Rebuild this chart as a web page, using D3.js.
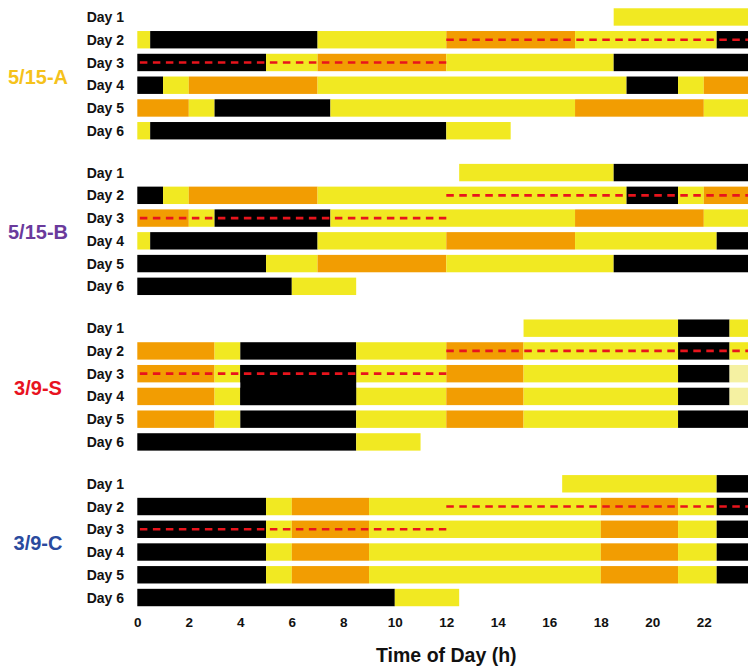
<!DOCTYPE html>
<html>
<head>
<meta charset="utf-8">
<script src="https://cdn.jsdelivr.net/npm/d3@7"></script>
<style>
  body { margin: 0; background: #fff; }
  svg { display: block; font-family: "Liberation Sans", Arial, sans-serif; }
</style>
</head>
<body>
<svg id="chart" width="748" height="669"></svg>
<script>
'use strict'

var groups = ["5/15-A", "5/15-B", "3/9-S", "3/9-C"];
var groupColors = ["#F5C21B", "#6A3A9C", "#E8131F", "#2A4A9E"];
var days = ["Day 1", "Day 2", "Day 3", "Day 4", "Day 5", "Day 6"];
var hourTicks = [0, 2, 4, 6, 8, 10, 12, 14, 16, 18, 20, 22];

// [day, start h, end h, state]
var segA = [
    ["Day 1", 18.5, 24, "yellow"],
    ["Day 2", 0, 0.5, "yellow"], ["Day 2", 0.5, 7, "black"], ["Day 2", 7, 12, "yellow"],
    ["Day 2", 12, 17, "orange"], ["Day 2", 17, 22.5, "yellow"], ["Day 2", 22.5, 24, "black"],
    ["Day 3", 0, 5, "black"], ["Day 3", 5, 7, "yellow"], ["Day 3", 7, 12, "orange"],
    ["Day 3", 12, 18.5, "yellow"], ["Day 3", 18.5, 24, "black"],
    ["Day 4", 0, 1, "black"], ["Day 4", 1, 2, "yellow"], ["Day 4", 2, 7, "orange"],
    ["Day 4", 7, 19, "yellow"], ["Day 4", 19, 21, "black"], ["Day 4", 21, 22, "yellow"], ["Day 4", 22, 24, "orange"],
    ["Day 5", 0, 2, "orange"], ["Day 5", 2, 3, "yellow"], ["Day 5", 3, 7.5, "black"],
    ["Day 5", 7.5, 17, "yellow"], ["Day 5", 17, 22, "orange"], ["Day 5", 22, 24, "yellow"],
    ["Day 6", 0, 0.5, "yellow"], ["Day 6", 0.5, 12, "black"], ["Day 6", 12, 14.5, "yellow"]
];

var segB = [
    ["Day 1", 12.5, 18.5, "yellow"], ["Day 1", 18.5, 24, "black"],
    ["Day 2", 0, 1, "black"], ["Day 2", 1, 2, "yellow"], ["Day 2", 2, 7, "orange"],
    ["Day 2", 7, 19, "yellow"], ["Day 2", 19, 21, "black"], ["Day 2", 21, 22, "yellow"], ["Day 2", 22, 24, "orange"],
    ["Day 3", 0, 2, "orange"], ["Day 3", 2, 3, "yellow"], ["Day 3", 3, 7.5, "black"],
    ["Day 3", 7.5, 17, "yellow"], ["Day 3", 17, 22, "orange"], ["Day 3", 22, 24, "yellow"],
    ["Day 4", 0, 0.5, "yellow"], ["Day 4", 0.5, 7, "black"], ["Day 4", 7, 12, "yellow"],
    ["Day 4", 12, 17, "orange"], ["Day 4", 17, 22.5, "yellow"], ["Day 4", 22.5, 24, "black"],
    ["Day 5", 0, 5, "black"], ["Day 5", 5, 7, "yellow"], ["Day 5", 7, 12, "orange"],
    ["Day 5", 12, 18.5, "yellow"], ["Day 5", 18.5, 24, "black"],
    ["Day 6", 0, 6, "black"], ["Day 6", 6, 8.5, "yellow"]
];

var segS = [
    ["Day 1", 15, 21, "yellow"], ["Day 1", 21, 23, "black"], ["Day 1", 23, 24, "yellow"],
    ["Day 2", 0, 3, "orange"], ["Day 2", 3, 4, "yellow"], ["Day 2", 4, 8.5, "black"], ["Day 2", 8.5, 12, "yellow"],
    ["Day 2", 12, 15, "orange"], ["Day 2", 15, 21, "yellow"], ["Day 2", 21, 23, "black"], ["Day 2", 23, 24, "yellow"],
    ["Day 3", 0, 3, "orange"], ["Day 3", 3, 4, "yellow"], ["Day 3", 4, 8.5, "black"], ["Day 3", 8.5, 12, "yellow"],
    ["Day 3", 12, 15, "orange"], ["Day 3", 15, 21, "yellow"], ["Day 3", 21, 23, "black"], ["Day 3", 23, 24, "pale"],
    ["Day 4", 0, 3, "orange"], ["Day 4", 3, 4, "yellow"], ["Day 4", 4, 8.5, "black"], ["Day 4", 8.5, 12, "yellow"],
    ["Day 4", 12, 15, "orange"], ["Day 4", 15, 21, "yellow"], ["Day 4", 21, 23, "black"], ["Day 4", 23, 24, "pale"],
    ["Day 5", 0, 3, "orange"], ["Day 5", 3, 4, "yellow"], ["Day 5", 4, 8.5, "black"], ["Day 5", 8.5, 12, "yellow"],
    ["Day 5", 12, 15, "orange"], ["Day 5", 15, 21, "yellow"], ["Day 5", 21, 24, "black"],
    ["Day 6", 0, 8.5, "black"], ["Day 6", 8.5, 11, "yellow"]
];

var segC = [
    ["Day 1", 16.5, 22.5, "yellow"], ["Day 1", 22.5, 24, "black"],
    ["Day 2", 0, 5, "black"], ["Day 2", 5, 6, "yellow"], ["Day 2", 6, 9, "orange"], ["Day 2", 9, 18, "yellow"],
    ["Day 2", 18, 21, "orange"], ["Day 2", 21, 22.5, "yellow"], ["Day 2", 22.5, 24, "black"],
    ["Day 3", 0, 5, "black"], ["Day 3", 5, 6, "yellow"], ["Day 3", 6, 9, "orange"], ["Day 3", 9, 18, "yellow"],
    ["Day 3", 18, 21, "orange"], ["Day 3", 21, 22.5, "yellow"], ["Day 3", 22.5, 24, "black"],
    ["Day 4", 0, 5, "black"], ["Day 4", 5, 6, "yellow"], ["Day 4", 6, 9, "orange"], ["Day 4", 9, 18, "yellow"],
    ["Day 4", 18, 21, "orange"], ["Day 4", 21, 22.5, "yellow"], ["Day 4", 22.5, 24, "black"],
    ["Day 5", 0, 5, "black"], ["Day 5", 5, 6, "yellow"], ["Day 5", 6, 9, "orange"], ["Day 5", 9, 18, "yellow"],
    ["Day 5", 18, 21, "orange"], ["Day 5", 21, 22.5, "yellow"], ["Day 5", 22.5, 24, "black"],
    ["Day 6", 0, 10, "black"], ["Day 6", 10, 12.5, "yellow"]
];

// black block in 3/9-S that runs through the gap between Day 3 and Day 4
var mergedSpans = [["3/9-S", "Day 3", "Day 4", 4, 8.5, "black"]];

// red dashed 24 h window, same in every group
var windowLines = [["Day 2", 12, 24], ["Day 3", 0.1, 12]];

var segments = [segA, segB, segS, segC];

var stateColor = {
    black: "#000000",
    yellow: "#F1E922",
    orange: "#F29D02",
    pale: "#F5F1A2"
};

const svg = d3.select("#chart");

const x = d3.scaleLinear().domain([0, 24]).range([137.3, 755.3]);
const gy = d3.scaleBand().domain(groups).range([5.6, 5.6 + 4 * 155.6]);
const dy = d3.scaleBand().domain(days).range([0, 6 * 22.75])
    .paddingInner(0.235).paddingOuter(0.1175);
const bh = dy.bandwidth();

groups.forEach(function(g, gi){
    var grp = svg.append("g").attr("transform", "translate(0," + gy(g) + ")");

    grp.selectAll("rect.seg")
        .data(segments[gi])
        .enter().append("rect")
        .attr("class", "seg")
        .attr("x", function(d){ return x(d[1]); })
        .attr("y", function(d){ return dy(d[0]); })
        .attr("width", function(d){ return x(d[2]) - x(d[1]); })
        .attr("height", bh)
        .attr("fill", function(d){ return stateColor[d[3]]; });

    grp.selectAll("rect.merge")
        .data(mergedSpans.filter(function(m){ return m[0] == g; }))
        .enter().append("rect")
        .attr("class", "merge")
        .attr("x", function(d){ return x(d[3]); })
        .attr("y", function(d){ return dy(d[1]); })
        .attr("width", function(d){ return x(d[4]) - x(d[3]); })
        .attr("height", function(d){ return dy(d[2]) + bh - dy(d[1]); })
        .attr("fill", function(d){ return stateColor[d[5]]; });

    grp.selectAll("line.win")
        .data(windowLines)
        .enter().append("line")
        .attr("class", "win")
        .attr("x1", function(d){ return x(d[1]); })
        .attr("x2", function(d){ return x(d[2]); })
        .attr("y1", function(d){ return dy(d[0]) + bh / 2; })
        .attr("y2", function(d){ return dy(d[0]) + bh / 2; })
        .attr("stroke", "#E8141C")
        .attr("stroke-width", 2.6)
        .attr("stroke-dasharray", "7.5,5.5");

    grp.selectAll("text.day")
        .data(days)
        .enter().append("text")
        .attr("class", "day")
        .attr("x", 124)
        .attr("y", function(d){ return dy(d) + bh / 2; })
        .attr("dy", "0.36em")
        .attr("text-anchor", "end")
        .attr("font-size", "14px")
        .attr("font-weight", "bold")
        .attr("fill", "#111")
        .text(function(d){ return d; });

    grp.append("text")
        .attr("x", 38)
        .attr("y", (dy("Day 1") + dy("Day 6") + bh) / 2 + 2.5)
        .attr("dy", "0.36em")
        .attr("text-anchor", "middle")
        .attr("font-size", "20px")
        .attr("font-weight", "bold")
        .attr("fill", groupColors[gi])
        .text(g);
});

const axis = d3.axisBottom(x).tickValues(hourTicks).tickSize(0).tickPadding(0);
const ax = svg.append("g").attr("transform", "translate(0,617)").call(axis);
ax.select(".domain").remove();
ax.selectAll("text")
    .attr("font-family", "'Liberation Sans', Arial, sans-serif")
    .attr("font-size", "13.5px")
    .attr("font-weight", "bold")
    .attr("fill", "#111");

svg.append("text")
    .attr("x", x(12))
    .attr("y", 662)
    .attr("text-anchor", "middle")
    .attr("font-size", "19.5px")
    .attr("font-weight", "bold")
    .attr("fill", "#111")
    .text("Time of Day (h)");
</script>
</body>
</html>
